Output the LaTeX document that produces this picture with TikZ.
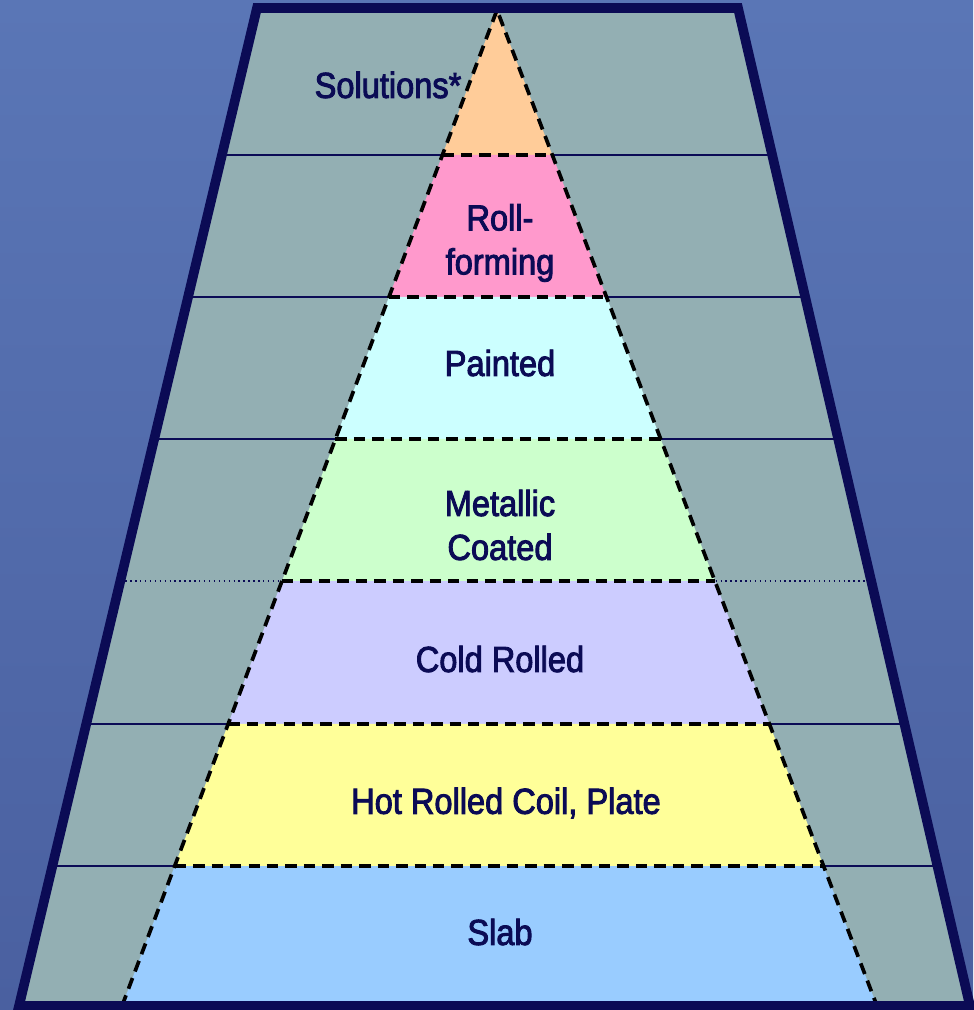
\documentclass[tikz,border=0pt]{standalone}
\usepackage{fontspec}
\setmainfont{Liberation Sans}[FakeStretch=0.9,FakeBold=2.5]
\usetikzlibrary{calc}

\definecolor{navy}{HTML}{0B0B55}
\definecolor{slate}{HTML}{93AFB3}
\definecolor{bgtop}{HTML}{5A76B6}
\definecolor{bgbot}{HTML}{4A60A0}

\begin{document}
\begin{tikzpicture}[x=0.02cm,y=-0.02cm,
    band/.style={draw=black, line width=2.1pt, dash pattern=on 6.5pt off 4pt},
    level/.style={font=\fontsize{20.6}{25}\selectfont, text=navy, align=center},
    rule/.style={navy, line width=1pt}]

	% Background
	\useasboundingbox (0,0) rectangle (973,1010);
	\shade[top color=bgtop, bottom color=bgbot] (0,0) rectangle (973,1010);

	% Coordinates
	\coordinate (TL) at (257,8);
	\coordinate (TR) at (738,8);
	\coordinate (BR) at (970,1006);
	\coordinate (BL) at (19,1006);
	\coordinate (A) at (497,10);
	\coordinate (PL) at (122,1006);
	\coordinate (PR) at (877,1006);

	\foreach \k/\y in {1/155,2/297,3/439,4/581,5/724,6/866} {
		\path (A) -- (PL) coordinate[pos={(\y-10)/996}] (L\k);
		\path (A) -- (PR) coordinate[pos={(\y-10)/996}] (R\k);
		\path (TL) -- (BL) coordinate[pos={(\y-8)/998}] (OL\k);
		\path (TR) -- (BR) coordinate[pos={(\y-8)/998}] (OR\k);
	}

	% Frame
	\fill[slate] (TL) -- (TR) -- (BR) -- (BL) -- cycle;

	% Rules
	\foreach \k in {1,2,3,5,6}
		\draw[rule] (OL\k) -- (OR\k);
	\draw[rule, line width=0.8pt, dotted] (OL4) -- (OR4);

	% Pyramid
	\fill[fill={rgb,255:red,255;green,204;blue,153}] (A) -- (R1) -- (L1) -- cycle;
	\fill[fill={rgb,255:red,255;green,153;blue,204}] (L1) -- (R1) -- (R2) -- (L2) -- cycle;
	\fill[fill={rgb,255:red,204;green,255;blue,255}] (L2) -- (R2) -- (R3) -- (L3) -- cycle;
	\fill[fill={rgb,255:red,204;green,255;blue,204}] (L3) -- (R3) -- (R4) -- (L4) -- cycle;
	\fill[fill={rgb,255:red,204;green,204;blue,255}] (L4) -- (R4) -- (R5) -- (L5) -- cycle;
	\fill[fill={rgb,255:red,255;green,255;blue,153}] (L5) -- (R5) -- (R6) -- (L6) -- cycle;
	\fill[fill={rgb,255:red,153;green,204;blue,255}] (L6) -- (R6) -- (PR) -- (PL) -- cycle;

	\foreach \k in {1,...,6}
		\draw[band] (L\k) -- (R\k);
	\draw[band] (PL) -- (A) -- (PR) -- cycle;

	% Border
	\draw[navy, line width=5.5pt, line join=miter] (TL) -- (TR) -- (BR) -- (BL) -- cycle;

	% Labels
	\node[level] (solutions) at (388,85) {Solutions*};
	\node[level] (rollform)  at (500,243) {Roll-\\forming};
	\node[level] (painted)   at (500,363) {Painted};
	\node[level] (metallic)  at (500,525) {Metallic\\Coated};
	\node[level] (cold)      at (500,659) {Cold Rolled};
	\node[level] (hot)       at (506,803) {Hot Rolled Coil, Plate};
	\node[level] (slab)      at (500,932) {Slab};

\end{tikzpicture}
\end{document}
